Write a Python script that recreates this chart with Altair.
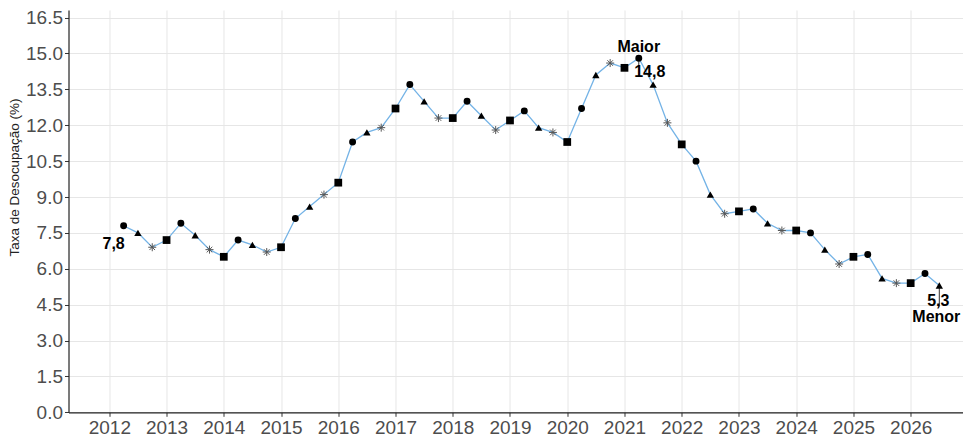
import altair as alt
import pandas as pd

years = list(range(2012, 2027))
quarters = ["T1", "T2", "T3", "T4"]
rates = [7.8, 7.5, 6.9, 7.2,
         7.9, 7.4, 6.8, 6.5,
         7.2, 7.0, 6.7, 6.9,
         8.1, 8.6, 9.1, 9.6,
         11.3, 11.7, 11.9, 12.7,
         13.7, 13.0, 12.3, 12.3,
         13.0, 12.4, 11.8, 12.2,
         12.6, 11.9, 11.7, 11.3,
         12.7, 14.1, 14.6, 14.4,
         14.8, 13.7, 12.1, 11.2,
         10.5, 9.1, 8.3, 8.4,
         8.5, 7.9, 7.6, 7.6,
         7.5, 6.8, 6.2, 6.5,
         6.6, 5.6, 5.4, 5.4,
         5.8, 5.3]
y_ticks = [0.0, 1.5, 3.0, 4.5, 6.0, 7.5, 9.0, 10.5, 12.0, 13.5, 15.0, 16.5]

rows = []
for i, r in enumerate(rates):
    yr = years[0] + i // 4
    q = i % 4 + 1
    rows.append({"idx": i, "t": yr + q / 4, "taxa": r, "tri": quarters[q - 1],
                 "lbl": f"{r:.1f}".replace(".", ",")})
df = pd.DataFrame(rows)

i_first = 0
i_max = rates.index(max(rates))
i_min = len(rates) - 1 - rates[::-1].index(min(rates))

FONT = "Liberation Sans"

x_enc = alt.X("t:Q",
              scale=alt.Scale(domain=[2011.287, 2026.914], nice=False, zero=False),
              axis=alt.Axis(values=years, format="d", title=None, labelFontSize=19,
                            labelColor="#4d4d4d", labelPadding=2, tickSize=4,
                            tickColor="#333333", domainColor="#222222", domainWidth=1.2,
                            gridColor="#e6e6e6", gridWidth=1, labelFont=FONT))
y_enc = alt.Y("taxa:Q",
              scale=alt.Scale(domain=[0, 16.818], nice=False),
              axis=alt.Axis(values=y_ticks, format=".1f", title="Taxa de Desocupação (%)",
                            labelFontSize=19, labelColor="#4d4d4d", labelPadding=2,
                            tickSize=4, tickColor="#333333", domainColor="#222222",
                            domainWidth=1.2, gridColor="#e6e6e6", gridWidth=1,
                            titleFontSize=13.5, titleFontWeight="normal", titleColor="#222222",
                            titlePadding=3, titleY=167, titleX=-47.5, labelFont=FONT,
                            titleFont=FONT))

base = alt.Chart(df).encode(x=x_enc, y=y_enc)

line = base.mark_line(color="#74b3e6", strokeWidth=1.3)

filled = base.transform_filter("datum.tri != 'T3'").mark_point(
    filled=True, opacity=1, color="black").encode(
    shape=alt.Shape("tri:N", scale=alt.Scale(domain=["T1", "T2", "T4"],
                                             range=["circle", "triangle-up", "square"]),
                    legend=None),
    size=alt.Size("tri:N", scale=alt.Scale(domain=["T1", "T2", "T4"], range=[48, 60, 50]),
                  legend=None))

aster = base.transform_filter("datum.tri == 'T3'").mark_point(
    shape="M-1,0L1,0M0,-1L0,1M-0.7,-0.7L0.7,0.7M-0.7,0.7L0.7,-0.7",
    filled=False, opacity=1, color="#555555", size=64, strokeWidth=1)


def label(idx, text, dx, dy):
    return base.transform_filter(f"datum.idx == {idx}").mark_text(
        font=FONT, fontSize=16, fontWeight="bold", color="black",
        align="center", baseline="middle", dx=dx, dy=dy).encode(text=text)


t_first = label(i_first, "lbl:N", -10, 18)
t_maior = label(i_max, alt.value("Maior"), 0, -11)
t_max = label(i_max, "lbl:N", 11, 14)
t_min = label(i_min, "lbl:N", -1, 15)
t_menor = label(i_min, alt.value("Menor"), -3, 31)

seg_min = base.transform_filter(f"datum.idx == {i_min}").mark_rule(
    color="black", strokeWidth=0.8, yOffset=2, y2Offset=21).encode(y2=alt.Y2("taxa:Q"))
seg_max = base.transform_filter(f"datum.idx == {i_max}").mark_rule(
    color="black", strokeWidth=0.8, yOffset=3, y2Offset=8).encode(y2=alt.Y2("taxa:Q"))

chart = alt.layer(line, seg_min, seg_max, filled, aster,
                  t_first, t_maior, t_max, t_min, t_menor).properties(
    width=894.5, height=402.3,
    autosize=alt.AutoSizeParams(type="none"),
    padding={"left": 60.5, "top": 2, "right": 0, "bottom": 30}
).configure_view(stroke=None)

chart.save("out.html", embed_options={"renderer": "svg", "actions": False})
